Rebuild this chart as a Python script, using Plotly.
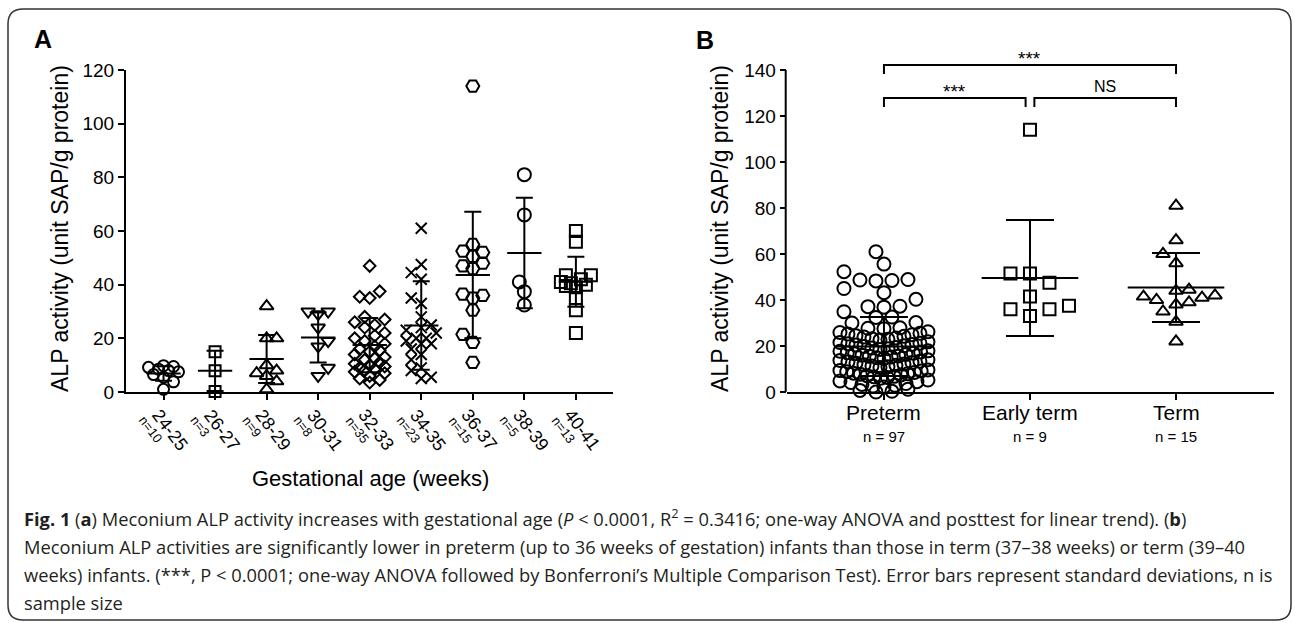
import numpy as np
import plotly.graph_objects as go

W, H = 1295, 623

# ---------------- Panel A data (gestational age groups) ----------------
ga_labels = ["24-25", "26-27", "28-29", "30-31", "32-33", "34-35", "36-37", "38-39", "40-41"]
ga_n = [10, 3, 9, 8, 35, 23, 15, 5, 13]
ga_24_25 = [9.5, 9.8, 9.2, 8.5, 8.0, 7.5, 6.5, 5.5, 3.8, 1.0]
ga_26_27 = [15.0, 7.9, 0.2]
ga_28_29 = [32.0, 20.0, 20.0, 10.0, 8.0, 7.0, 6.0, 4.0, 1.0]
ga_30_31 = [30.0, 30.0, 29.0, 24.0, 19.0, 17.0, 9.0, 6.0]
ga_32_33 = [47, 37.5, 35.5, 35, 28, 27, 26, 25, 24, 22, 21, 20, 19, 18, 17, 16, 15.5, 15,
            14, 13, 12.5, 12, 11, 10.5, 10, 9.5, 9, 8.5, 8, 7.5, 7, 6, 5, 4.5, 3.5]
ga_34_35 = [61, 47.5, 44.5, 42, 35, 33, 28, 25, 24, 23, 22, 20, 20, 19, 18, 18, 16,
            14, 12, 9, 8, 5.5, 5]
ga_36_37 = [114, 55, 52.5, 52, 50.5, 48, 47, 46, 36.5, 36, 35, 30.5, 21.5, 18.5, 11]
ga_38_39 = [81.0, 66.0, 41.0, 37.4, 32.4]
ga_40_41 = [60, 56, 43.5, 43.5, 42, 41, 40.5, 40, 39.5, 39, 35, 30.5, 22]
ga_mean = [6.9, 7.9, 12.3, 20.3, 17.5, 24.8, 43.6, 51.8, 41.1]
ga_sd = [2.7, 7.5, 8.9, 9.3, 10.1, 16.5, 23.6, 20.6, 9.3]

# ---------------- Panel B data ----------------
grp_labels = ["Preterm", "Early term", "Term"]
grp_n = [97, 9, 15]
preterm = [61.0, 55.6, 52.3, 48.9, 48.7, 48.5, 48.3, 45.0, 43.2, 40.3, 37.3, 37.1, 36.9,
           34.9, 32.6, 32.4, 30.2, 30.0, 27.9, 27.7, 27.5,
           22.6, 22.9, 23.2, 23.5, 23.9, 24.2, 24.5, 24.9, 25.2, 25.5, 25.9, 26.2,
           18.5, 18.8, 19.1, 19.4, 19.8, 20.1, 20.4, 20.7, 21.0, 21.2, 21.5, 21.8,
           14.6, 14.9, 15.2, 15.5, 15.7, 16.0, 16.3, 16.6, 16.9, 17.1, 17.4, 17.7, 17.9,
           10.7, 11.0, 11.3, 11.6, 11.9, 12.2, 12.5, 12.8, 13.1, 13.4, 13.7, 14.0,
           6.0, 6.3, 6.6, 6.8, 7.1, 7.4, 7.7, 7.9, 8.2, 8.5, 8.8, 9.1, 9.3, 9.6,
           2.2, 2.6, 2.9, 3.3, 3.7, 4.1, 4.5, 4.8, 5.2,
           0.0, 0.3, 0.7, 1.2]
early_term = [114.0, 51.5, 51.5, 47.5, 41.5, 37.5, 36.0, 36.0, 33.0]
term = [81, 66, 60, 56, 44.5, 44, 42, 41.5, 41, 40, 39, 38, 35, 30.5, 22]
grp_mean = [19.8, 49.6, 45.4]
grp_sd = [12.8, 25.2, 15.0]

# significance brackets: (left group, right group, label, bracket level)
comparisons = [(0, 2, "***", 142.2), (0, 1, "***", 127.8), (1, 2, "NS", 127.8)]

# ---------------- layout geometry (pixels) ----------------
AX0, AX1 = 126, 613
BX0, BX1 = 786.7, 1274
Y0PX, Y1PX = 392, 70
A_XR = [-0.728, 8.72]
B_XR = [-0.666, 2.671]
A_YR = [0, 120]
B_YTOP = 140
B_YR = [0, 150]          # extra headroom for the significance brackets
B_PXU = (Y0PX - Y1PX) / B_YTOP
B_TOPPX = Y0PX - B_YR[1] * B_PXU

FONT = "Liberation Sans, Arial, Helvetica, sans-serif"
ARIAL_W = {"n": 0.556, "=": 0.584, "-": 0.333}


def px2x(px):
    return px / W


def px2y(py):
    return 1 - py / H


def swarm(vals, ypx, d, step, maxhalf, placed=None, fixed=None):
    vals = np.asarray(vals, float)
    order = np.argsort(vals, kind="stable")
    placed = list(placed or [])
    offs = np.zeros(len(vals))
    kmax = int(maxhalf // step)
    side = -1
    for idx in order:
        if fixed is not None and idx in fixed:
            offs[idx] = fixed[idx]
            continue
        y = vals[idx] * ypx
        cands = [0.0]
        for k in range(1, kmax + 1):
            cands += [side * k * step, -side * k * step]
        best, bestc, bestscore = None, 0.0, -1
        for c in cands:
            mind = min((np.hypot(c - px, y - py) for px, py in placed), default=1e9)
            if mind >= d:
                best = c
                break
            if mind > bestscore:
                bestscore, bestc = mind, c
        if best is None:
            best = bestc
        offs[idx] = best
        placed.append((best, y))
        side = -side
    return offs


def rows_then_swarm(vals, ypx, split_gap, step, maxhalf, min_row, d, sstep):
    """GraphPad-like: dense rows spread symmetrically (lowest value in the middle),
    remaining points placed by a simple swarm around them."""
    vals = np.asarray(vals, float)
    order = list(np.argsort(vals, kind="stable"))
    rows, cur = [], []
    for idx in order:
        if cur and (vals[idx] - vals[cur[-1]]) > split_gap:
            rows.append(cur)
            cur = []
        cur.append(idx)
    if cur:
        rows.append(cur)
    fixed, placed = {}, []
    for row in rows:
        k = len(row)
        if k < min_row:
            continue
        s = min(step, 2 * maxhalf / (k - 1))
        pos = [(j - (k - 1) / 2) * s for j in range(k)]
        pos.sort(key=lambda p: (abs(p), p))
        for idx, p in zip(row, pos):
            fixed[idx] = p
            placed.append((p, vals[idx] * ypx))
    return swarm(vals, ypx, d, sstep, maxhalf, placed=placed, fixed=fixed)


fig = go.Figure()

# ---- Panel A scatter ----
a_groups = [ga_24_25, ga_26_27, ga_28_29, ga_30_31, ga_32_33, ga_34_35, ga_36_37, ga_38_39, ga_40_41]
a_symbols = ["circle-open", "square-open", "triangle-up-open", "triangle-down-open",
             "diamond-open", "x-thin-open", "hexagon2-open", "circle-open", "square-open"]
a_sizes = [11, 11, 12, 12, 9, 11, 13, 13, 12]
a_xpx = (AX1 - AX0) / (A_XR[1] - A_XR[0])
a_ypx = (Y0PX - Y1PX) / (A_YR[1] - A_YR[0])
for i, vals in enumerate(a_groups):
    offs = swarm(vals, a_ypx, 10, 5, 17)
    fig.add_trace(go.Scatter(
        x=i + offs / a_xpx, y=vals, mode="markers", xaxis="x", yaxis="y",
        marker=dict(symbol=a_symbols[i], size=a_sizes[i], color="black",
                    line=dict(color="black", width=2)),
        cliponaxis=False, showlegend=False, hoverinfo="y"))

fig.add_trace(go.Scatter(
    x=list(range(len(ga_labels))), y=ga_mean, mode="markers", xaxis="x", yaxis="y",
    marker=dict(symbol="line-ew-open", size=24.5, color="black", line=dict(color="black", width=2)),
    error_y=dict(type="data", array=ga_sd, visible=True, color="black", thickness=2, width=8.5),
    cliponaxis=False, showlegend=False))

# ---- Panel B scatter ----
b_groups = [preterm, early_term, term]
b_symbols = ["circle-open", "square-open", "triangle-up-open"]
b_sizes = [13, 12, 12]
b_xpx = (BX1 - BX0) / (B_XR[1] - B_XR[0])
b_offsets = [
    rows_then_swarm(preterm, B_PXU, 0.55, 16, 44, 3, 14, 8),
    swarm(early_term, B_PXU, 19.5, 19.5, 40),
    swarm(term, B_PXU, 13, 6.5, 40),
]
for i, vals in enumerate(b_groups):
    fig.add_trace(go.Scatter(
        x=i + b_offsets[i] / b_xpx, y=vals, mode="markers", xaxis="x2", yaxis="y2",
        marker=dict(symbol=b_symbols[i], size=b_sizes[i], color="black",
                    line=dict(color="black", width=2)),
        cliponaxis=False, showlegend=False, hoverinfo="y"))

fig.add_trace(go.Scatter(
    x=list(range(len(grp_labels))), y=grp_mean, mode="markers", xaxis="x2", yaxis="y2",
    marker=dict(symbol="line-ew-open", size=69, color="black", line=dict(color="black", width=2)),
    error_y=dict(type="data", array=grp_sd, visible=True, color="black", thickness=2, width=24),
    cliponaxis=False, showlegend=False))

# brackets
drop = 3.9
gap = 0.03
bx, by = [], []
annotations = []
for l, r, lab, yl in comparisons:
    xl = l + (gap if l == 1 else 0)
    xr = r - (gap if r == 1 else 0)
    bx += [xl, xl, xr, xr, None]
    by += [yl - drop, yl, yl, yl - drop, None]
    if lab == "NS":
        annotations.append(dict(x=(xl + xr) / 2, y=yl, xref="x2", yref="y2", text=lab,
                                showarrow=False, xanchor="center", yanchor="bottom", yshift=1,
                                font=dict(family=FONT, size=16, color="black")))
    else:
        annotations.append(dict(x=(xl + xr) / 2, y=yl, xref="x2", yref="y2", text=lab,
                                showarrow=False, xanchor="center", yanchor="bottom", yshift=-6,
                                font=dict(family=FONT, size=19, color="black")))
fig.add_trace(go.Scatter(x=bx, y=by, mode="lines", xaxis="x2", yaxis="y2",
                         line=dict(color="black", width=2), cliponaxis=False,
                         showlegend=False, hoverinfo="skip"))

# B category labels with sample sizes
for i, (lab, n) in enumerate(zip(grp_labels, grp_n)):
    annotations.append(dict(x=i, y=px2y(413), xref="x2", yref="paper", text=lab,
                            showarrow=False, xanchor="center", yanchor="middle",
                            font=dict(family=FONT, size=21, color="black")))
    annotations.append(dict(x=i, y=px2y(436), xref="x2", yref="paper", text=f"n = {n}",
                            showarrow=False, xanchor="center", yanchor="middle",
                            font=dict(family=FONT, size=15, color="black")))

# A category labels (rotated) with sample sizes
ANG = 53
cs, sn = np.cos(np.radians(ANG)), np.sin(np.radians(ANG))
for i, (lab, n) in enumerate(zip(ga_labels, ga_n)):
    annotations.append(dict(x=i, y=px2y(Y0PX), xref="x", yref="paper", text=lab,
                            textangle=ANG, showarrow=False, xanchor="center", yanchor="middle",
                            xshift=6.5, yshift=-38,
                            font=dict(family=FONT, size=18, color="black")))
    ntxt = f"n={n}"
    L = sum(ARIAL_W.get(ch, 0.556) for ch in ntxt) * 13
    cx, cy = -21.5 + L / 2 * cs, 25.7 + L / 2 * sn
    annotations.append(dict(x=i, y=px2y(Y0PX), xref="x", yref="paper", text=ntxt,
                            textangle=ANG, showarrow=False, xanchor="center", yanchor="middle",
                            xshift=cx, yshift=-cy,
                            font=dict(family=FONT, size=13, color="black")))

ytitle = "ALP activity (unit SAP/g protein)"
common_ann = dict(xref="paper", yref="paper", showarrow=False, xanchor="center", yanchor="middle")
annotations += [
    dict(x=px2x(60), y=px2y(229), text=ytitle, textangle=-90,
         font=dict(family=FONT, size=23, color="black"), **common_ann),
    dict(x=px2x(720), y=px2y(229), text=ytitle, textangle=-90,
         font=dict(family=FONT, size=23, color="black"), **common_ann),
    dict(x=px2x(370), y=px2y(478), text="Gestational age (weeks)",
         font=dict(family=FONT, size=22, color="black"), **common_ann),
    dict(x=px2x(43), y=px2y(39), text="<b>A</b>",
         font=dict(family=FONT, size=25, color="black"), **common_ann),
    dict(x=px2x(705), y=px2y(40), text="<b>B</b>",
         font=dict(family=FONT, size=25, color="black"), **common_ann),
]

# caption
CAP_FONT = "Open Sans, Noto Sans, sans-serif"
caption_lines = [
    "<b>Fig. 1</b> (<b>a</b>) Meconium ALP activity increases with gestational age (<i>P</i> &lt; 0.0001, R<sup>2</sup> = 0.3416; one-way ANOVA and posttest for linear trend). (<b>b</b>)",
    "Meconium ALP activities are significantly lower in preterm (up to 36 weeks of gestation) infants than those in term (37–38 weeks) or term (39–40",
    "weeks) infants. (***, P &lt; 0.0001; one-way ANOVA followed by Bonferroni’s Multiple Comparison Test). Error bars represent standard deviations, n is",
    "sample size",
]
cap_y = [517, 546, 574, 602]
for t, yy in zip(caption_lines, cap_y):
    annotations.append(dict(x=px2x(22), y=px2y(yy), xref="paper", yref="paper", text=t,
                            xanchor="left", yanchor="middle", showarrow=False, align="left",
                            font=dict(family=CAP_FONT, size=18.3, color="#231f20")))

# frame
x0, x1 = px2x(8), px2x(1291)
yt, yb = px2y(9), px2y(620)
rx, ry = 15 / W, 15 / H
frame = (f"M {x0+rx},{yt} L {x1-rx},{yt} Q {x1},{yt} {x1},{yt-ry} L {x1},{yb+ry} "
         f"Q {x1},{yb} {x1-rx},{yb} L {x0+rx},{yb} Q {x0},{yb} {x0},{yb+ry} "
         f"L {x0},{yt-ry} Q {x0},{yt} {x0+rx},{yt} Z")

shapes = [
    dict(type="path", xref="paper", yref="paper", path=frame,
         line=dict(color="#333333", width=1.5)),
    # panel B y axis line, only up to the last tick
    dict(type="line", xref="paper", yref="y2", x0=px2x(BX0 - 1), x1=px2x(BX0 - 1), y0=0, y1=B_YTOP,
         line=dict(color="black", width=2)),
]

axis_common = dict(linewidth=2, linecolor="black", ticks="outside", ticklen=6,
                   tickwidth=2, tickcolor="black", showgrid=False, zeroline=False,
                   fixedrange=True, automargin=False)

fig.update_layout(
    template="none",
    width=W, height=H, margin=dict(l=0, r=0, t=0, b=0, pad=0, autoexpand=False),
    paper_bgcolor="white", plot_bgcolor="white", showlegend=False,
    xaxis=dict(domain=[px2x(AX0), px2x(AX1)], range=A_XR, tickvals=list(range(9)),
               showticklabels=False, anchor="y", showline=True, **axis_common),
    yaxis=dict(domain=[px2y(Y0PX), px2y(Y1PX)], range=A_YR, tickvals=list(range(0, 121, 20)),
               anchor="x", showline=True,
               tickfont=dict(family=FONT, size=19, color="black"), **axis_common),
    xaxis2=dict(domain=[px2x(BX0), px2x(BX1)], range=B_XR, tickvals=list(range(3)),
                showticklabels=False, anchor="y2", showline=True, **axis_common),
    yaxis2=dict(domain=[px2y(Y0PX), px2y(B_TOPPX)], range=B_YR,
                tickvals=list(range(0, B_YTOP + 1, 20)), anchor="x2", showline=False,
                tickfont=dict(family=FONT, size=19, color="black"), **axis_common),
    annotations=annotations,
    shapes=shapes,
)

fig.write_html("out.html", config={"displayModeBar": False},
               post_script="document.body.style.margin='0';document.body.style.overflow='hidden';")
